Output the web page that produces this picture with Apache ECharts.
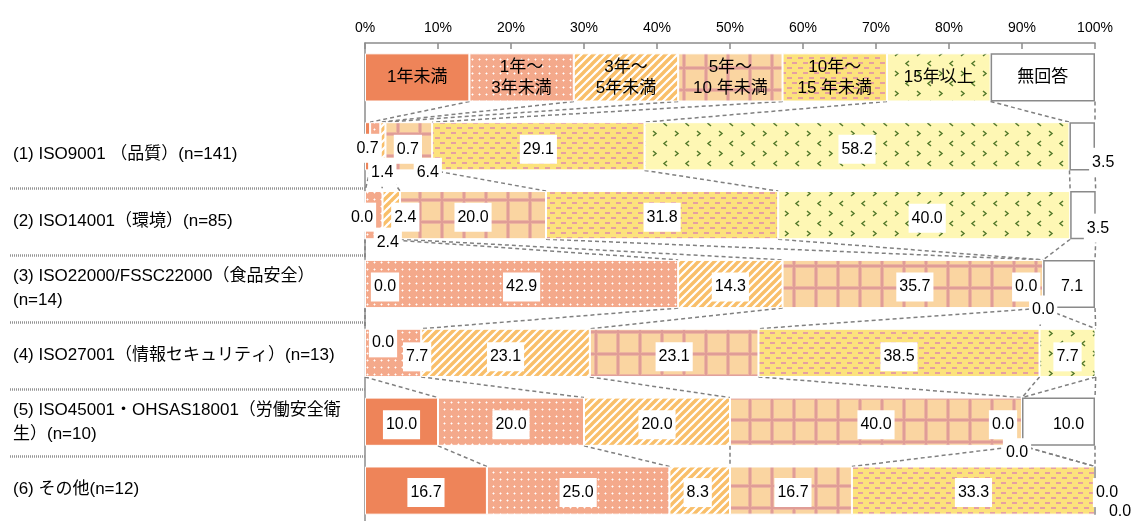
<!DOCTYPE html>
<html>
<head>
<meta charset="utf-8">
<script src="https://cdn.jsdelivr.net/npm/echarts@6/dist/echarts.min.js"></script>
<style>
  html, body { margin: 0; padding: 0; background: #fff; }
  #chart { width: 1135px; height: 521px; }
</style>
</head>
<body>
<div id="chart"></div>
<script>
// Row labels (top row is the key strip naming each period band)
const categories = [
  '',
  '(1) ISO9001 （品質）(n=141)',
  '(2) ISO14001（環境）(n=85)',
  '(3) ISO22000/FSSC22000（食品安全）\n(n=14)',
  '(4) ISO27001（情報セキュリティ）(n=13)',
  '(5) ISO45001・OHSAS18001（労働安全衛\n生）(n=10)',
  '(6) その他(n=12)'
];
const seriesNames = ['1年未満', '1年～3年未満', '3年～5年未満', '5年～10年未満', '10年～15年未満', '15年以上', '無回答'];
const keyLabels = ['1年未満', '1年～\n3年未満', '3年～\n5年未満', '5年～\n10 年未満', '10年～\n15 年未満', '15年以上', '無回答'];
const keyWidths = [14.3, 14.3, 14.3, 14.3, 14.3, 14.2, 14.3];
const tickLabels = ['0%', '10%', '20%', '30%', '40%', '50%', '60%', '70%', '80%', '90%', '100%'];

// Shares (%) per row (1)..(6)
const under1 = [0.7, 0.0, 0.0, 0.0, 10.0, 16.7];
const from1to3 = [1.4, 2.4, 42.9, 7.7, 20.0, 25.0];
const from3to5 = [0.7, 2.4, 14.3, 23.1, 20.0, 8.3];
const from5to10 = [6.4, 20.0, 35.7, 23.1, 40.0, 16.7];
const from10to15 = [29.1, 31.8, 0.0, 38.5, 0.0, 33.3];
const over15 = [58.2, 40.0, 0.0, 7.7, 0.0, 0.0];
const noAnswer = [3.5, 3.5, 7.1, 0.0, 10.0, 0.0];

const bands = [under1, from1to3, from3to5, from5to10, from10to15, over15, noAnswer];

// Pixel nudges for value labels, per band, per row (1)..(6)
const labelNudges = [
  [[0, 2], [-3, 2], [20, 3], [18, -10], [0, 3], [0, 2]],
  [[7, 26], [14, 27], [0, 3], [24, 4], [0, 3], [0, 2]],
  [[25, 3], [14, 2], [0, 3], [0, 4], [0, 3], [-2, 2]],
  [[19, 26], [0, 2], [2, 3], [0, 4], [0, 3], [2, 2]],
  [[0, 3], [0, 2], [-17, 3], [0, 4], [-19, 3], [0, 2]],
  [[0, 3], [3, 3], [0, 26], [0, 4], [-5, 31], [12, 2]],
  [[21, 16], [15, 13], [3, 3], [19, 24], [10, 3], [25, 21]]
];

const FONT = "'Liberation Sans', 'Noto Sans CJK JP', sans-serif";

// Repeating fill tiles
function tile(w, h, paint) {
  const c = document.createElement('canvas');
  c.width = w; c.height = h;
  paint(c.getContext('2d'), w, h);
  return { image: c, repeat: 'repeat' };
}

const fills = [
  '#EE8459',
  tile(7, 7, (g) => {
    g.fillStyle = '#F4A98B'; g.fillRect(0, 0, 7, 7);
    g.fillStyle = 'rgba(255,255,255,0.5)'; g.fillRect(2, 3, 3, 1); g.fillRect(3, 2, 1, 3);
    g.fillStyle = '#FFFFFF'; g.fillRect(3, 3, 1, 1);
  }),
  tile(8, 8, (g) => {
    g.fillStyle = '#FFFFFF'; g.fillRect(0, 0, 8, 8);
    g.strokeStyle = '#F9BF6A'; g.lineWidth = 3.4;
    g.beginPath();
    [0, 8, 16].forEach((c) => { g.moveTo(c + 1, -1); g.lineTo(c - 9, 9); });
    g.stroke();
  }),
  tile(22, 22, (g) => {
    g.fillStyle = '#FAD5A1'; g.fillRect(0, 0, 22, 22);
    g.fillStyle = '#EDB59F'; g.fillRect(0, 0, 22, 4); g.fillRect(0, 0, 4, 22);
    g.fillStyle = '#E09D97'; g.fillRect(0, 1, 22, 2); g.fillRect(1, 0, 2, 22);
  }),
  tile(11, 10, (g) => {
    g.fillStyle = '#FCE27C'; g.fillRect(0, 0, 11, 10);
    g.fillStyle = '#E6A0A0'; g.fillRect(0, 2, 5, 2); g.fillRect(6, 7, 5, 2);
  }),
  tile(22, 20, (g) => {
    g.fillStyle = '#FEF7B4'; g.fillRect(0, 0, 22, 20);
    g.strokeStyle = '#557A2C'; g.lineWidth = 1.5;
    g.beginPath();
    g.moveTo(7, 1); g.lineTo(4, 3.5); g.lineTo(7, 6);
    g.moveTo(15, 11); g.lineTo(18, 13.5); g.lineTo(15, 16);
    g.stroke();
  }),
  '#FFFFFF'
];

// Cumulative right edge of each band in each row (key strip first)
const rowsOfBands = [keyWidths].concat(categories.slice(1).map((_, r) => bands.map((b) => b[r])));
const cumEdges = rowsOfBands.map((row) => {
  let s = 0;
  return row.map((v) => (s += v));
});
const connectorData = [];
for (let r = 0; r < cumEdges.length - 1; r++) {
  for (let k = 0; k < bands.length; k++) {
    connectorData.push([cumEdges[r][k], cumEdges[r + 1][k], r]);
  }
}

const barSeries = bands.map((vals, k) => ({
  type: 'bar',
  name: seriesNames[k],
  stack: 'share',
  barWidth: '70%',
  z: 3,
  itemStyle: k === 6
    ? { color: '#FFFFFF', borderColor: '#8A8A8A', borderWidth: 1.5 }
    : { color: fills[k], borderColor: '#FFFFFF', borderWidth: 1 },
  label: {
    show: true,
    position: 'inside',
    color: '#000',
    fontSize: 16,
    fontFamily: FONT,
    backgroundColor: '#FFFFFF',
    padding: [7, 3, 6, 3],
    formatter: (p) => (p.dataIndex === 0 ? keyLabels[k] : Number(p.value).toFixed(1))
  },
  data: [{ value: keyWidths[k], label: { backgroundColor: 'transparent', padding: 0, fontSize: 17, lineHeight: 21 } }]
    .concat(vals.map((v, r) => ({ value: v, label: { offset: labelNudges[k][r] } })))
}));

const connectorSeries = {
  type: 'custom',
  z: 2,
  silent: true,
  encode: { x: [0, 1], y: 2 },
  data: connectorData,
  renderItem: (params, api) => {
    const a = api.coord([api.value(0), api.value(2)]);
    const b = api.coord([api.value(1), api.value(2) + 1]);
    const half = api.size([0, 1])[1] * 0.35;
    return {
      type: 'line',
      shape: { x1: a[0], y1: a[1] + half, x2: b[0], y2: b[1] - half },
      style: { stroke: '#808080', lineWidth: 1.5, lineDash: [4, 3] }
    };
  }
};

const chart = echarts.init(document.getElementById('chart'));
chart.setOption({
  animation: false,
  backgroundColor: '#FFFFFF',
  grid: [
    // bars
    { left: 365, right: 40, top: 43, height: 482, containLabel: false, outerBoundsMode: 'none' },
    // row-name panel with dotted separators
    { left: 10, width: 355, top: 54, height: 469, containLabel: false, outerBoundsMode: 'none' }
  ],
  xAxis: [
    {
      type: 'value',
      gridIndex: 0,
      position: 'top',
      min: 0,
      max: 100,
      interval: 10,
      axisLine: { show: true, lineStyle: { color: '#8C8C8C', width: 1.5 } },
      axisTick: { show: true, inside: true, length: 6, lineStyle: { color: '#8C8C8C', width: 1.5 } },
      splitLine: { show: false },
      axisLabel: {
        color: '#000',
        fontSize: 14,
        fontFamily: FONT,
        margin: 8,
        formatter: (v) => tickLabels[Math.round(v / 10)]
      }
    },
    { type: 'value', gridIndex: 1, show: false, min: 0, max: 1 }
  ],
  yAxis: [
    {
      type: 'category',
      gridIndex: 0,
      inverse: true,
      data: categories,
      axisLine: { show: true, lineStyle: { color: '#8C8C8C', width: 1.5 } },
      axisTick: { show: false },
      axisLabel: { show: false }
    },
    {
      type: 'category',
      gridIndex: 1,
      position: 'left',
      inverse: true,
      data: categories,
      axisLine: { show: false },
      axisTick: {
        show: true,
        inside: true,
        length: 355,
        interval: (idx) => idx >= 2,
        lineStyle: { color: '#949494', width: 2.5, type: [1, 1] }
      },
      axisLabel: {
        interval: 0,
        inside: true,
        margin: 3,
        align: 'left',
        color: '#000',
        fontSize: 17,
        lineHeight: 24,
        fontFamily: FONT
      }
    }
  ],
  series: barSeries.concat([connectorSeries])
});
</script>
</body>
</html>
